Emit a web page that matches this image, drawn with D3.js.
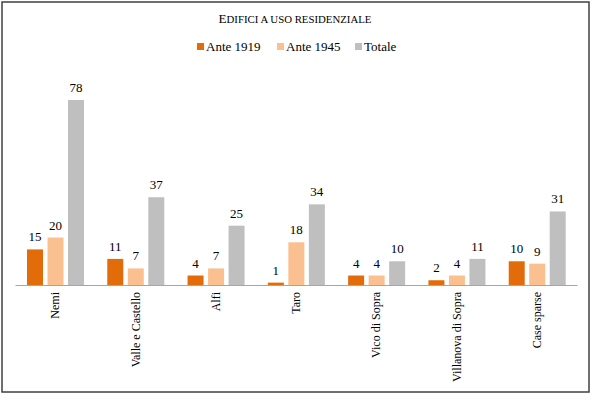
<!DOCTYPE html>
<html><head><meta charset="utf-8">
<script src="https://cdn.jsdelivr.net/npm/d3@7"></script>
<style>body{margin:0;background:#fff}svg{display:block}text{font-family:"Liberation Serif","Times New Roman",serif}</style>
</head><body><svg id="c" width="592" height="395"></svg>
<script>
const categories = ["Nemi","Valle e Castello","Alfi","Taro","Vico di Sopra","Villanova di Sopra","Case sparse"];
const ante1919 = [15,11,4,1,4,2,10];
const ante1945 = [20,7,7,18,4,4,9];
const totale = [78,37,25,34,10,11,31];
const seriesNames = ["Ante 1919","Ante 1945","Totale"];
const colors = ["#E36C0A","#FAC090","#BFBFBF"];

const svg = d3.select("#c");
const font = '"Liberation Serif","Times New Roman",serif';
svg.append("rect").attr("x",2).attr("y",2).attr("width",587).attr("height",390)
  .attr("fill","#fff").attr("stroke","#404040").attr("stroke-width",1.5);

// Title in Word-style small caps
const title = svg.append("text").attr("x",295).attr("y",23).attr("text-anchor","middle")
  .style("font-family",font).attr("fill","#000");
title.append("tspan").attr("font-size",13).text("E");
title.append("tspan").attr("font-size",10.8).text("DIFICI A USO RESIDENZIALE");

const series = [ante1919, ante1945, totale];
const x0 = d3.scaleBand().domain(categories).range([15,577]);
const x1 = d3.scaleBand().domain(seriesNames).range([12,69]).paddingInner(0.22);
const y = d3.scaleLinear().domain([0,78]).range([285,100]);

const g = svg.append("g");
categories.forEach((c,i)=>{
  series.forEach((s,j)=>{
    const xx = x0(c)+x1(seriesNames[j]);
    g.append("rect").attr("x",xx).attr("y",y(s[i])).attr("width",x1.bandwidth())
      .attr("height",y(0)-y(s[i])).attr("fill",colors[j]);
    g.append("text").attr("x",xx+x1.bandwidth()/2).attr("y",y(s[i])-8)
      .attr("text-anchor","middle").style("font-family",font).attr("font-size",13)
      .attr("fill","#000").text(s[i]);
  });
});

const axis = d3.axisBottom(x0).tickSize(0).tickPadding(0);
const ax = svg.append("g").attr("transform","translate(0,285)").call(axis);
ax.attr("font-family",null);
ax.select(".domain").attr("stroke","#A6A6A6").attr("stroke-width",1.2);
ax.selectAll(".tick text").style("font-family",font).attr("font-size",12).attr("fill","#000")
  .attr("transform","rotate(-90)").attr("text-anchor","end").attr("dy","0.35em")
  .attr("x",-7).attr("y",0);

const legendX = [197,277,355];
seriesNames.forEach((n,j)=>{
  svg.append("rect").attr("x",legendX[j]).attr("y",43).attr("width",7).attr("height",7).attr("fill",colors[j]);
  svg.append("text").attr("x",legendX[j]+9).attr("y",51).style("font-family",font)
    .attr("font-size",13).attr("fill","#000").text(n);
});
</script></body></html>
